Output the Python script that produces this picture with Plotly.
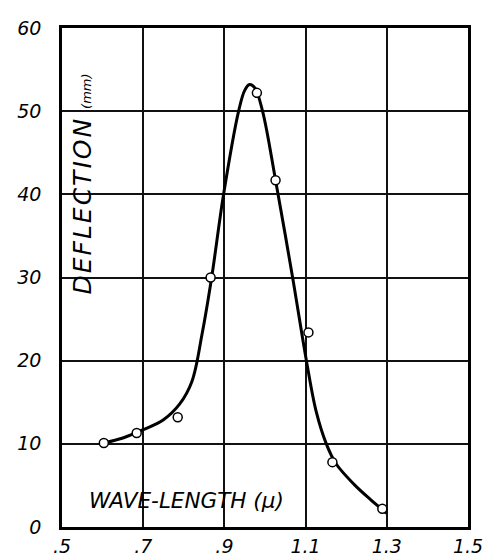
import plotly.graph_objects as go

# measured points (wave-length in microns, deflection in mm)
point_wavelength = [0.603, 0.684, 0.785, 0.866, 0.980, 1.026, 1.107, 1.166, 1.289]
point_deflection = [10.1, 11.3, 13.2, 30.0, 52.2, 41.7, 23.4, 7.8, 2.2]

# hand-drawn smooth curve
curve_wavelength = [0.603, 0.65, 0.70, 0.75, 0.79, 0.82, 0.845, 0.8686,
                    0.898, 0.935, 0.950, 0.962, 0.975, 0.994, 1.026, 1.068,
                    1.102, 1.126, 1.151, 1.175, 1.22, 1.26, 1.300]
curve_deflection = [10.1, 10.7, 11.7, 12.9, 14.8, 17.5, 23.2, 30.0,
                    40.0, 50.0, 52.5, 53.2, 52.8, 50.0, 41.7, 30.0,
                    20.0, 13.9, 10.0, 7.6, 5.1, 3.3, 1.65]

x_tick_vals = [0.5, 0.7, 0.9, 1.1, 1.3, 1.5]
x_tick_text = [".5", ".7", ".9", "1.1", "1.3", "1.5"]
y_tick_vals = [0, 10, 20, 30, 40, 50, 60]
y_tick_text = ["0", "10", "20", "30", "40", "50", "60"]

fig = go.Figure()
fig.add_trace(go.Scatter(
    x=curve_wavelength, y=curve_deflection, mode="lines",
    line=dict(color="black", width=3, shape="spline", smoothing=1.0),
    hoverinfo="skip", showlegend=False))
fig.add_trace(go.Scatter(
    x=point_wavelength, y=point_deflection, mode="markers",
    marker=dict(symbol="circle", size=9, color="white",
                line=dict(color="black", width=1.5)),
    showlegend=False))

tick_font = dict(family="DejaVu Sans", size=19, color="black", style="italic")

fig.update_xaxes(range=[0.5, 1.5], tickvals=x_tick_vals, ticktext=x_tick_text,
                 showgrid=True, gridcolor="#111", gridwidth=1.6,
                 showline=True, linecolor="black", linewidth=2.5, mirror=True,
                 zeroline=False, ticks="", tickfont=tick_font, ticklabelstandoff=0,
                 automargin=False)
fig.update_yaxes(range=[0, 60], tickvals=y_tick_vals, ticktext=y_tick_text,
                 showgrid=True, gridcolor="#111", gridwidth=1.6,
                 showline=True, linecolor="black", linewidth=2.5, mirror=True,
                 zeroline=False, ticks="", tickfont=tick_font, ticklabelstandoff=14,
                 automargin=False)

fig.add_annotation(
    x=0.05, y=0.687, xref="paper", yref="paper", textangle=-90,
    text="<span style='letter-spacing:2px'>DEFLECTION</span> <span style='font-size:13px'>(mm)</span>",
    showarrow=False, font=dict(family="DejaVu Sans", size=25, color="black", style="italic"),
    xanchor="center", yanchor="middle")
fig.add_annotation(
    x=0.062, y=0.054, xref="paper", yref="paper",
    text="WAVE-LENGTH (µ)", showarrow=False,
    font=dict(family="DejaVu Sans", size=21.5, color="black", style="italic"),
    xanchor="left", yanchor="middle")

fig.update_layout(
    width=488, height=559,
    margin=dict(l=62, r=20, t=28, b=32),
    paper_bgcolor="white", plot_bgcolor="white",
)

fig.write_html("out.html", config={"displayModeBar": False},
               post_script="document.body.style.margin='0';document.body.style.overflow='hidden';")
